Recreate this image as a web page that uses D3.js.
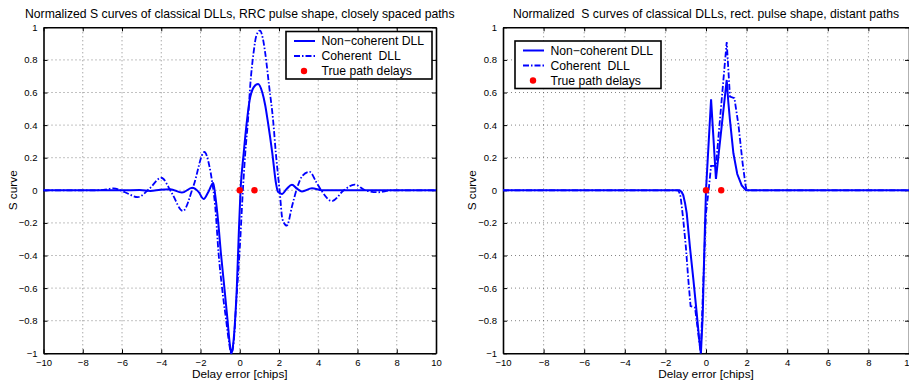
<!DOCTYPE html>
<html>
<head>
<meta charset="utf-8">
<script src="https://cdn.jsdelivr.net/npm/d3@7"></script>
<style>
  html, body { margin: 0; padding: 0; background: #fff; }
  svg { display: block; font-family: "Liberation Sans", Arial, sans-serif; }
</style>
</head>
<body>
<svg id="chart" width="909" height="381"></svg>
<script>
const xTicks = [-10, -8, -6, -4, -2, 0, 2, 4, 6, 8, 10]
const yTicks = [-1, -0.8, -0.6, -0.4, -0.2, 0, 0.2, 0.4, 0.6, 0.8, 1]
const pathDelays = [0, 0.75]
const legendLabels = ['Non\u2212coherent DLL', 'Coherent  DLL', 'True path delays']

// RRC pulse, closely spaced paths: [delay error, S curve]
const rrcNonCoherent = [
  [-10, 0], [-6, 0], [-5.1, 0.002], [-4.55, -0.004], [-4.05, 0.003], [-3.54, 0.006],
  [-2.95, -0.014], [-2.42, 0.015], [-2.1, -0.01], [-1.84, -0.053], [-1.6, -0.01],
  [-1.35, 0.045], [-1.25, -0.03], [-1.11, -0.18], [-0.96, -0.386], [-0.79, -0.59],
  [-0.62, -0.8], [-0.52, -0.93], [-0.43, -1.0], [-0.35, -0.96], [-0.25, -0.82],
  [-0.15, -0.6], [-0.06, -0.3], [0.04, 0], [0.2, 0.227], [0.37, 0.43], [0.5, 0.55],
  [0.7, 0.63], [0.93, 0.652], [1.15, 0.6], [1.3, 0.52], [1.42, 0.43], [1.66, 0.227],
  [1.85, 0.04], [1.95, -0.01], [2.15, -0.023], [2.4, 0.01], [2.66, 0.034], [2.92, 0.01],
  [3.17, -0.007], [3.68, 0.012], [4.2, 0], [10, 0]
]
const rrcCoherent = [
  [-10, 0], [-7.5, 0], [-6.95, 0.002], [-6.43, 0.012], [-5.85, -0.012], [-5.2, -0.042],
  [-4.6, 0.01], [-4.0, 0.077], [-3.45, -0.02], [-2.9, -0.127], [-2.35, 0.03],
  [-1.8, 0.235], [-1.55, 0.15], [-1.42, 0.063], [-1.25, -0.1], [-1.08, -0.386],
  [-0.91, -0.59], [-0.69, -0.8], [-0.55, -0.93], [-0.43, -1.0], [-0.3, -0.92],
  [-0.18, -0.69], [0, -0.36], [0.16, 0], [0.28, 0.227], [0.42, 0.43], [0.53, 0.636],
  [0.7, 0.84], [0.85, 0.95], [1.03, 0.98], [1.18, 0.93], [1.3, 0.84], [1.5, 0.636],
  [1.7, 0.43], [1.84, 0.227], [2.03, 0], [2.18, -0.18], [2.4, -0.217], [2.66, -0.1],
  [2.91, 0.01], [3.2, 0.09], [3.57, 0.113], [3.9, 0.05], [4.15, 0], [4.7, -0.066],
  [5.3, 0], [5.85, 0.035], [6.4, 0], [7.07, -0.012], [7.7, 0], [10, 0]
]

// rectangular pulse, distant paths
const rectNonCoherent = [
  [-10, 0], [-1.3, 0], [-1.2, -0.01], [-1.12, -0.03], [-1.03, -0.08], [-0.95, -0.14],
  [-0.79, -0.35], [-0.62, -0.55], [-0.46, -0.75], [-0.33, -0.92], [-0.25, -1.0],
  [-0.16, -0.76], [-0.08, -0.35], [0, 0], [0.25, 0.558], [0.49, 0.07], [1.02, 0.677],
  [1.1, 0.54], [1.18, 0.43], [1.35, 0.227], [1.54, 0.1], [1.76, 0.03], [1.97, 0], [10, 0]
]
const rectCoherent = [
  [-10, 0], [-1.38, 0], [-1.32, -0.012], [-1.25, -0.04], [-1.12, -0.18], [-0.99, -0.35],
  [-0.87, -0.55], [-0.76, -0.71], [-0.54, -0.72], [-0.26, -1.0], [-0.13, -0.55],
  [0, -0.14], [0.13, 0], [0.25, 0.15], [0.49, 0.15], [1.02, 0.91], [1.18, 0.575],
  [1.4, 0.565], [1.6, 0.4], [1.8, 0.17], [1.95, 0.03], [2.0, 0], [10, 0]
]

const svg = d3.select('#chart')
const blue = '#0000ff'

function drawPanel(opts) {
  const x = d3.scaleLinear().domain([-10, 10]).range([opts.left, opts.right])
  const y = d3.scaleLinear().domain([-1, 1]).range([353.3, 27.3])
  const g = svg.append('g')

  // dotted grid
  g.selectAll('.gx').data(xTicks.slice(1, -1)).join('line')
    .attr('x1', d => x(d)).attr('x2', d => x(d))
    .attr('y1', y(-1)).attr('y2', y(1))
    .attr('stroke', '#333').attr('stroke-width', 0.6).attr('stroke-dasharray', '1,3')
  g.selectAll('.gy').data(yTicks.slice(1, -1)).join('line')
    .attr('x1', x(-10)).attr('x2', x(10))
    .attr('y1', d => y(d)).attr('y2', d => y(d))
    .attr('stroke', '#333').attr('stroke-width', 0.6).attr('stroke-dasharray', '1,3')

  // axes with inward ticks on all four sides
  const tick = 4
  g.append('g').attr('transform', `translate(0,${y(-1)})`)
    .call(d3.axisBottom(x).tickValues(xTicks).tickSizeInner(-tick).tickSizeOuter(0).tickPadding(6)
      .tickFormat(d3.format('d')))
  g.append('g').attr('transform', `translate(0,${y(1)})`)
    .call(d3.axisTop(x).tickValues(xTicks).tickSizeInner(-tick).tickSizeOuter(0).tickFormat(''))
  g.append('g').attr('transform', `translate(${x(-10)},0)`)
    .call(d3.axisLeft(y).tickValues(yTicks).tickSizeInner(-tick).tickSizeOuter(0).tickPadding(6)
      .tickFormat(d => d === 0 ? '0' : (Math.abs(d) === 1 ? d3.format('d')(d) : d3.format('.1f')(d))))
  g.append('g').attr('transform', `translate(${x(10)},0)`)
    .call(d3.axisRight(y).tickValues(yTicks).tickSizeInner(-tick).tickSizeOuter(0).tickFormat(''))
  g.selectAll('.domain').attr('stroke', '#000').attr('stroke-width', 1.6)
  g.selectAll('.tick line').attr('stroke', '#000').attr('stroke-width', 1)
  g.selectAll('.tick text').attr('font-size', 9.5).attr('fill', '#000')
    .attr('font-family', '"Liberation Sans Narrow", "Liberation Sans", Arial, sans-serif')

  // curves
  const line = d3.line().x(d => x(d[0])).y(d => y(d[1])).curve(opts.curve)
  g.append('path').datum(opts.coherent).attr('d', line)
    .attr('fill', 'none').attr('stroke', blue).attr('stroke-width', 1.8)
    .attr('stroke-dasharray', '6,2,1.5,2')
  g.append('path').datum(opts.nonCoherent).attr('d', line)
    .attr('fill', 'none').attr('stroke', blue).attr('stroke-width', 2)

  g.selectAll('.dot').data(pathDelays).join('circle')
    .attr('cx', d => x(d)).attr('cy', y(0)).attr('r', 3.2).attr('fill', '#ff0000')

  // title and labels
  const cx = (opts.left + opts.right) / 2
  g.append('text').attr('x', cx).attr('y', 18).attr('text-anchor', 'middle')
    .attr('font-size', 12.2).style('white-space', 'pre').text(opts.title)
  g.append('text').attr('x', cx).attr('y', 378).attr('text-anchor', 'middle')
    .attr('font-size', 11.8).text('Delay error [chips]')
  g.append('text').attr('transform', `translate(${opts.left - 27},${y(0)}) rotate(-90)`)
    .attr('text-anchor', 'middle').attr('font-size', 11.8).text('S curve')

  // legend
  const lg = g.append('g').attr('transform', `translate(${opts.legend[0]},${opts.legend[1]})`)
  lg.append('rect').attr('width', 146).attr('height', 47.5)
    .attr('fill', '#fff').attr('stroke', '#000').attr('stroke-width', 1.6)
  legendLabels.forEach((label, i) => {
    const ry = 9.5 + i * 15
    if (i < 2) {
      lg.append('line').attr('x1', 8).attr('x2', 29).attr('y1', ry).attr('y2', ry)
        .attr('stroke', blue).attr('stroke-width', i === 0 ? 2 : 1.8)
        .attr('stroke-dasharray', i === 0 ? null : '6,2,1.5,2')
    } else {
      lg.append('circle').attr('cx', 18).attr('cy', ry).attr('r', 3.2).attr('fill', '#ff0000')
    }
    lg.append('text').attr('x', 35.5).attr('y', ry + 4.2).attr('font-size', 12.2)
      .style('white-space', 'pre').text(label)
  })
}

drawPanel({
  left: 43.5, right: 436,
  title: 'Normalized S curves of classical DLLs, RRC pulse shape, closely spaced paths',
  nonCoherent: rrcNonCoherent, coherent: rrcCoherent,
  curve: d3.curveMonotoneX, legend: [286, 31.5]
})
drawPanel({
  left: 503, right: 909,
  title: 'Normalized  S curves of classical DLLs, rect. pulse shape, distant paths',
  nonCoherent: rectNonCoherent, coherent: rectCoherent,
  curve: d3.curveLinear, legend: [515, 41]
})
</script>
</body>
</html>
